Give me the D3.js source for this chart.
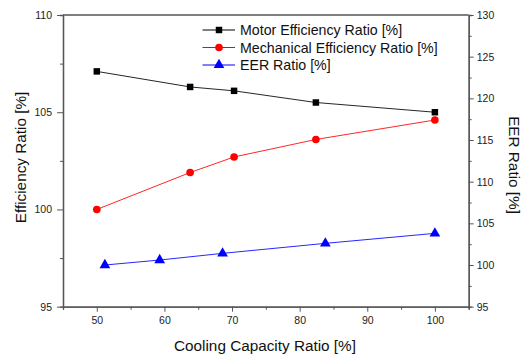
<!DOCTYPE html>
<html>
<head>
<meta charset="utf-8">
<script src="https://cdn.jsdelivr.net/npm/d3@7"></script>
<style>
	body { margin: 0; background: #fff; }
	svg text { font-family: Arial, "Liberation Sans", sans-serif; }
</style>
</head>
<body>
<svg id="chart" width="527" height="355"></svg>
<script>
// data
const motorX = [50, 63.8, 70.3, 82.4, 100];
const motorY = [107.1, 106.3, 106.1, 105.5, 105.0];
const mechX = [50, 63.8, 70.3, 82.4, 100];
const mechY = [100.0, 101.9, 102.7, 103.6, 104.6];
const eerX = [51.2, 59.3, 68.6, 83.8, 100];
const eerY = [100.0, 100.6, 101.4, 102.6, 103.8];

const xTicks = [50, 60, 70, 80, 90, 100];
const leftTicks = [95, 100, 105, 110];
const rightTicks = [95, 100, 105, 110, 115, 120, 125, 130];

const margin = { left: 63, top: 15, right: 468.7, bottom: 306.7 };
const svg = d3.select('#chart');

const x = d3.scaleLinear().domain([45, 105]).range([margin.left, margin.right]);
const yL = d3.scaleLinear().domain([95, 110]).range([margin.bottom, margin.top]);
const yR = d3.scaleLinear().domain([95, 130]).range([margin.bottom, margin.top]);

const axisColor = '#555';
const labelColor = '#222';

function styleAxis(g) {
	g.select('.domain').attr('stroke', axisColor).attr('stroke-width', 1.3);
	g.selectAll('.tick line').attr('stroke', axisColor).attr('stroke-width', 1);
	g.selectAll('.tick text').attr('fill', labelColor).style('font-size', '10.5px')
		.style('font-family', 'Arial, "Liberation Sans", sans-serif');
}

// minor ticks
const xMinor = d3.range(45, 106, 5).filter((v) => xTicks.indexOf(v) < 0);
svg.append('g').attr('transform', `translate(0,${margin.bottom})`)
	.call(d3.axisBottom(x).tickValues(xMinor).tickSize(3).tickFormat(''))
	.call(styleAxis);
svg.append('g').attr('transform', `translate(${margin.left},0)`)
	.call(d3.axisLeft(yL).tickValues([97.5, 102.5, 107.5]).tickSize(3).tickFormat(''))
	.call(styleAxis);
svg.append('g').attr('transform', `translate(${margin.right},0)`)
	.call(d3.axisRight(yR).tickValues([97.5, 102.5, 107.5, 112.5, 117.5, 122.5, 127.5]).tickSize(3).tickFormat(''))
	.call(styleAxis);

// major axes
svg.append('g').attr('transform', `translate(0,${margin.bottom})`)
	.call(d3.axisBottom(x).tickValues(xTicks).tickSize(5).tickPadding(5).tickSizeOuter(0))
	.call(styleAxis);
svg.append('g').attr('transform', `translate(${margin.left},0)`)
	.call(d3.axisLeft(yL).tickValues(leftTicks).tickSize(6).tickPadding(5).tickSizeOuter(0))
	.call(styleAxis);
svg.append('g').attr('transform', `translate(${margin.right},0)`)
	.call(d3.axisRight(yR).tickValues(rightTicks).tickSize(5).tickPadding(3).tickSizeOuter(0))
	.call(styleAxis);

// top frame line
svg.append('line')
	.attr('x1', margin.left).attr('x2', margin.right)
	.attr('y1', margin.top).attr('y2', margin.top)
	.attr('stroke', axisColor).attr('stroke-width', 1.3);

// axis titles
svg.append('text')
	.attr('x', 265).attr('y', 351)
	.attr('text-anchor', 'middle').style('font-size', '15.3px').attr('fill', '#111')
	.text('Cooling Capacity Ratio [%]');
svg.append('text')
	.attr('transform', 'translate(25.5,157.5) rotate(-90)')
	.attr('text-anchor', 'middle').style('font-size', '15.3px').attr('fill', '#111')
	.text('Efficiency Ratio [%]');
svg.append('text')
	.attr('transform', 'translate(508.5,165) rotate(90)')
	.attr('text-anchor', 'middle').style('font-size', '15.3px').attr('fill', '#111')
	.text('EER Ratio [%]');

const series = [
	{ name: 'Motor Efficiency Ratio [%]', xs: motorX, ys: motorY, y: yL, color: '#000', sym: d3.symbolSquare, size: 42 },
	{ name: 'Mechanical Efficiency Ratio [%]', xs: mechX, ys: mechY, y: yL, color: '#ff0000', sym: d3.symbolCircle, size: 46 },
	{ name: 'EER Ratio [%]', xs: eerX, ys: eerY, y: yR, color: '#0000ff', sym: d3.symbolTriangle, size: 50 },
];

const line = d3.line().x((d) => d[0]).y((d) => d[1]);

series.forEach((s) => {
	const pts = s.xs.map((v, i) => [x(v), s.y(s.ys[i])]);
	svg.append('path')
		.attr('d', line(pts))
		.attr('fill', 'none')
		.attr('stroke', s.color)
		.attr('stroke-width', 1)
		.attr('opacity', 0.85);
	svg.selectAll(null).data(pts).enter().append('path')
		.attr('d', d3.symbol().type(s.sym).size(s.size))
		.attr('transform', (d) => `translate(${d[0]},${d[1]})`)
		.attr('fill', s.color);
});

// legend
const legend = svg.append('g');
series.forEach((s, i) => {
	const ly = 30 + i * 17.5;
	legend.append('line')
		.attr('x1', 202.5).attr('x2', 235)
		.attr('y1', ly).attr('y2', ly)
		.attr('stroke', s.color).attr('stroke-width', 1);
	legend.append('path')
		.attr('d', d3.symbol().type(s.sym).size(s.size))
		.attr('transform', `translate(219,${ly})`)
		.attr('fill', s.color);
	legend.append('text')
		.attr('x', 240).attr('y', ly).attr('dy', '0.36em')
		.style('font-size', '14.2px').attr('fill', '#111')
		.text(s.name);
});
</script>
</body>
</html>
